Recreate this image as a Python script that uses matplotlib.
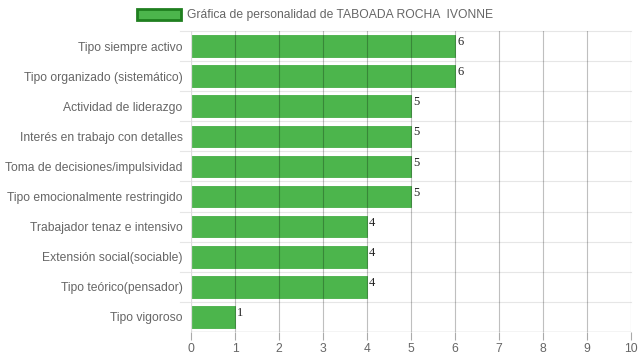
import matplotlib
matplotlib.use("Agg")
import matplotlib.pyplot as plt
from matplotlib.patches import Patch

categorias = [
    "Tipo siempre activo",
    "Tipo organizado (sistemático)",
    "Actividad de liderazgo",
    "Interés en trabajo con detalles",
    "Toma de decisiones/impulsividad",
    "Tipo emocionalmente restringido",
    "Trabajador tenaz e intensivo",
    "Extensión social(sociable)",
    "Tipo teórico(pensador)",
    "Tipo vigoroso",
]
valores = [6, 6, 5, 5, 5, 5, 4, 4, 4, 1]
ticks_x = list(range(0, 11))
titulo = "Gráfica de personalidad de TABOADA ROCHA  IVONNE"

verde = "#4cb54c"
gris = "#666666"
fs = 8.7

fig = plt.figure(figsize=(6.39, 3.6), dpi=100)
ax = fig.add_axes([191 / 639, 1 - 332 / 360, 440 / 639, 301 / 360])

pos = list(range(len(categorias)))
ax.barh(pos, valores, height=0.72, color=verde, edgecolor="#47b047", linewidth=0.6, zorder=2)

# valor al final de cada barra
for y, v in zip(pos, valores):
    ax.text(v + 0.05, y - 0.33, str(v), ha="left", va="top",
            fontsize=fs + 0.3, family="Liberation Serif", color="#222222", zorder=4)

ax.set_xlim(0, 10)
ax.set_ylim(len(categorias) - 0.5, -0.5)
ax.set_xticks(ticks_x)
ax.set_yticks(pos)
ax.set_yticklabels(categorias)

# rejilla vertical (más oscura) y horizontal entre categorías (clara)
for x in ticks_x[1:]:
    ax.axvline(x, color="#000000", alpha=0.25, linewidth=0.8, zorder=3)
ax.axvline(0, color="#dddddd", linewidth=0.9, zorder=3)
for y in [p - 0.5 for p in pos]:
    ax.plot([-0.25, 10], [y, y], color="#e6e6e6", linewidth=0.8, zorder=1, clip_on=False)

for s in ax.spines.values():
    s.set_visible(False)
ax.axhline(len(pos) - 0.5, color="#aaaaaa", linewidth=0.9, zorder=3)

ax.tick_params(axis="y", length=0, labelcolor=gris, labelsize=fs, pad=6)
ax.tick_params(axis="x", length=6, color="#aaaaaa", labelcolor=gris, labelsize=fs, pad=2)
for lab in ax.get_xticklabels() + ax.get_yticklabels():
    lab.set_family("Liberation Sans")

leg = fig.legend(handles=[Patch(facecolor=verde, edgecolor="#1f7f1f", linewidth=2)],
                 labels=[titulo], loc="center", bbox_to_anchor=(315 / 639, 1 - 15 / 360),
                 frameon=False, handlelength=3.6, handleheight=1.1, handletextpad=0.5,
                 prop={"family": "Liberation Sans", "size": fs})
for t in leg.get_texts():
    t.set_color(gris)

fig.savefig("out.png", dpi=100)
